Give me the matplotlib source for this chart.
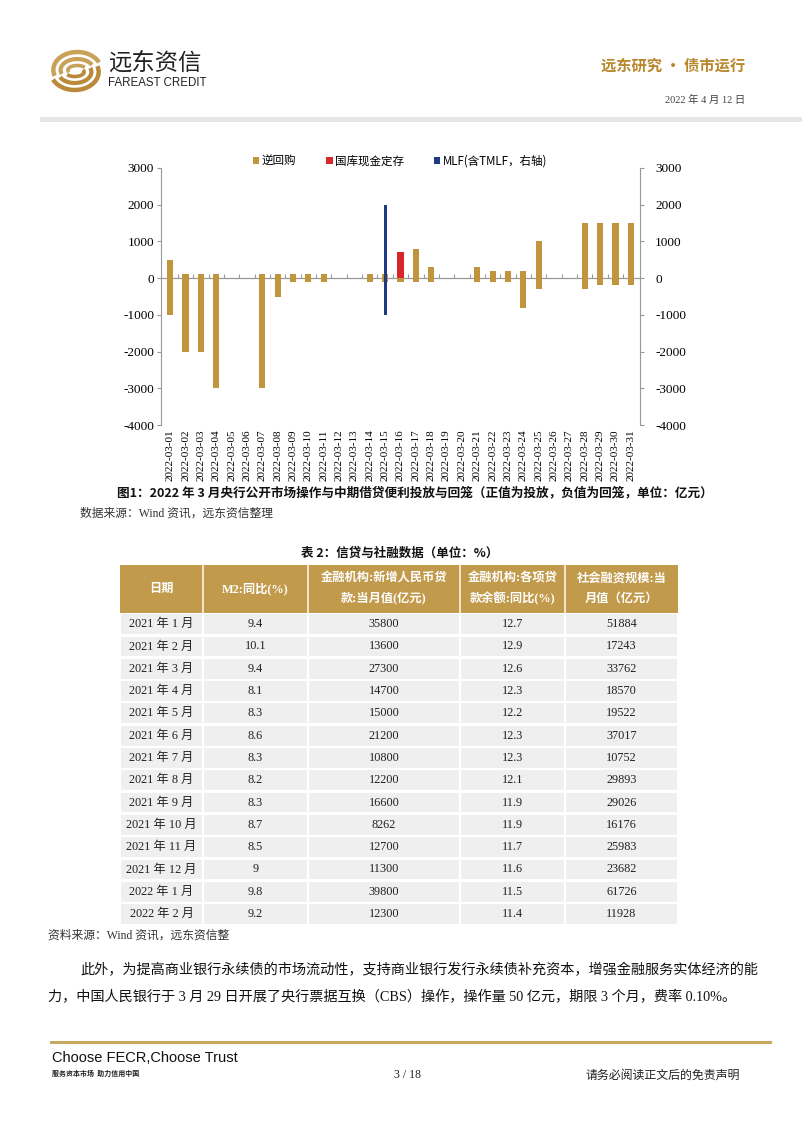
import numpy as np
import matplotlib.pyplot as plt
from matplotlib.patches import Rectangle, Arc

plt.rcParams['axes.unicode_minus'] = False

# ---- data: 2022-03 open market operations (亿元) ----
days = ['2022-03-%02d' % d for d in range(1, 32)]
rr_in = [500, 100, 100, 100, 0, 0, 100, 100, 100, 100, 100, 0, 0, 100, 100,
         0, 800, 300, 0, 0, 300, 200, 200, 200, 1000, 0, 0, 1500, 1500, 1500, 1500]
rr_out = [-1000, -2000, -2000, -3000, 0, 0, -3000, -500, -100, -100, -100, 0, 0, -100, -100,
          -100, -100, -100, 0, 0, -100, -100, -100, -800, -300, 0, 0, -300, -200, -200, -200]
deposit = [0]*15 + [700] + [0]*15
mlf_in = [0]*14 + [2000] + [0]*16
mlf_out = [0]*14 + [-1000] + [0]*16

# ---- data: table 2 ----
tbl_dates = ['2021 年 1 月', '2021 年 2 月', '2021 年 3 月', '2021 年 4 月', '2021 年 5 月',
             '2021 年 6 月', '2021 年 7 月', '2021 年 8 月', '2021 年 9 月', '2021 年 10 月',
             '2021 年 11 月', '2021 年 12 月', '2022 年 1 月', '2022 年 2 月']
m2 = [9.4, 10.1, 9.4, 8.1, 8.3, 8.6, 8.3, 8.2, 8.3, 8.7, 8.5, 9, 9.8, 9.2]
new_loans = [35800, 13600, 27300, 14700, 15000, 21200, 10800, 12200, 16600, 8262, 12700, 11300, 39800, 12300]
loan_yoy = [12.7, 12.9, 12.6, 12.3, 12.2, 12.3, 12.3, 12.1, 11.9, 11.9, 11.7, 11.6, 11.5, 11.4]
tsf = [51884, 17243, 33762, 18570, 19522, 37017, 10752, 29893, 29026, 16176, 25983, 23682, 61726, 11928]
headers = ['日期', 'M2:同比(%)', '金融机构:新增人民币贷\n款:当月值(亿元)',
           '金融机构:各项贷\n款余额:同比(%)', '社会融资规模:当\n月值（亿元）']

W, H = 802, 1133
GOLD = '#C1953E'
CJK = ['Noto Sans CJK SC', 'DejaVu Sans']
SERIF = ['Liberation Serif', 'Noto Sans CJK SC']

fig = plt.figure(figsize=(W/100, H/100), dpi=100)


def T(x, y, s, **kw):
    kw.setdefault('va', 'center')
    return fig.text(x/W, 1 - y/H, s, **kw)


def R(x0, y0, x1, y1, **kw):
    fig.patches.append(Rectangle((x0/W, 1 - y1/H), (x1-x0)/W, (y1-y0)/H,
                                 transform=fig.transFigure, **kw))


# ---- page header ----
lax = fig.add_axes([50/W, 1-93/H, 52/W, 44/H])
lax.set_xlim(-1.25, 1.25); lax.set_ylim(-1.1, 1.1); lax.axis('off')
for w, h, lw in [(2.3, 1.8, 3.2), (1.6, 1.1, 3.0), (0.9, 0.45, 2.6)]:
    lax.add_patch(Arc((0.06, 0.05), w, h, theta1=20, theta2=195, color='#C9A25A', lw=lw))
    lax.add_patch(Arc((-0.06, -0.05), w, h, theta1=200, theta2=375, color='#B98A3A', lw=lw))
T(108, 63, '远东资信', family=CJK, fontsize=16.8, color='#222222')
T(108, 83, 'FAREAST CREDIT', family=['Liberation Sans'], fontsize=8.3, color='#222222')
T(745, 66, '远东研究 • 债市运行', family=CJK, fontsize=11, color='#B8862B',
  ha='right', fontweight='bold')
T(745, 100, '2022 年 4 月 12 日', family=SERIF, fontsize=7.5, color='#444444', ha='right')
R(40, 117, 802, 122, color='#E6E6E6', lw=0)

# ---- chart ----
x = np.arange(len(days))
ax = fig.add_axes([161/W, 1-425/H, (640-161)/W, (425-168)/H])
ax.bar(x, rr_in, width=0.4, color=GOLD, label='逆回购', zorder=2)
ax.bar(x, rr_out, width=0.4, color=GOLD, zorder=2)
ax.bar(x, deposit, width=0.4, color='#D9262C', label='国库现金定存', zorder=2)
ax.axhline(0, color='#999999', lw=0.9, zorder=1)
ax.set_ylim(-4000, 3000)
ax.set_xlim(-0.6, len(days) - 0.4)
ax.set_yticks(range(-4000, 3001, 1000))
ax.set_xticks(x)
ax.set_xticklabels(days, rotation=90, family=SERIF, fontsize=8)
ax.tick_params(axis='x', length=0, pad=3)
ax.tick_params(axis='y', length=3, color='#999999', labelsize=9.5, pad=2)
for lab in ax.get_yticklabels():
    lab.set_family(SERIF)
for s in ['top', 'right', 'bottom']:
    ax.spines[s].set_visible(False)
ax.spines['left'].set_color('#999999')

ax2 = ax.twinx()
ax2.bar(x, mlf_in, width=0.2, color='#1F3A83', label='MLF(含TMLF，右轴)')
ax2.bar(x, mlf_out, width=0.2, color='#1F3A83')
ax2.set_ylim(-4000, 3000)
ax2.set_yticks(range(-4000, 3001, 1000))
ax2.tick_params(axis='y', length=3, color='#999999', labelsize=9.5, pad=8)
for lab in ax2.get_yticklabels():
    lab.set_family(SERIF)
for s in ['top', 'left', 'bottom']:
    ax2.spines[s].set_visible(False)
ax2.spines['right'].set_color('#999999')

# category tick marks on the zero line
sec = ax.secondary_xaxis(4/7)
sec.set_xticks(x[:-1] + 0.5)
sec.set_xticklabels([])
sec.tick_params(length=3, color='#999999', direction='out')
for sp in sec.spines.values():
    sp.set_visible(False)

h1, l1 = ax.get_legend_handles_labels()
h2, l2 = ax2.get_legend_handles_labels()
fig.legend(h1 + h2, l1 + l2, loc='center', bbox_to_anchor=(400/W, 1-161/H),
           ncol=3, frameon=False, prop={'family': CJK, 'size': 8.3},
           handlelength=0.55, handleheight=0.55, handletextpad=0.2, columnspacing=2.6)

T(117, 493, '图1：2022 年 3 月央行公开市场操作与中期借贷便利投放与回笼（正值为投放，负值为回笼，单位：亿元）',
  family=CJK, fontsize=9.1, fontweight='bold', color='#111111')
T(80, 514, '数据来源：Wind 资讯，远东资信整理', family=SERIF, fontsize=8.5, color='#333333')

# ---- table ----
T(400, 553, '表 2：信贷与社融数据（单位：%）', family=CJK, fontsize=9, fontweight='bold',
  ha='center', color='#111111')
col_x = [120, 203, 308, 460, 565, 678]
hdr_top, hdr_bot = 565, 613
row_h = 22.3
R(col_x[0], hdr_top, col_x[-1], hdr_bot, color='#C29A4B', lw=0)
for i, hd in enumerate(headers):
    if i > 0:
        R(col_x[i]-0.7, hdr_top, col_x[i]+0.7, hdr_bot, color='#F3E6C8', lw=0)
    T((col_x[i] + col_x[i+1]) / 2, (hdr_top + hdr_bot) / 2, hd, family=SERIF, fontsize=8.8,
      ha='center', color='white', fontweight='bold', linespacing=1.75)

for r in range(len(tbl_dates)):
    y0 = hdr_bot + r * row_h
    vals = [tbl_dates[r], f'{m2[r]:g}', str(new_loans[r]), f'{loan_yoy[r]:g}', str(tsf[r])]
    for c, v in enumerate(vals):
        R(col_x[c] + 1, y0 + 1.2, col_x[c+1] - 1, y0 + row_h - 1.2, color='#EFEFEF', lw=0)
        T((col_x[c] + col_x[c+1]) / 2, y0 + row_h / 2, v, family=SERIF, fontsize=8.8,
          ha='center', color='#222222')

T(48, 936, '资料来源：Wind 资讯，远东资信整', family=SERIF, fontsize=8.5, color='#333333')

# ---- body text ----
T(80, 970, '此外，为提高商业银行永续债的市场流动性，支持商业银行发行永续债补充资本，增强金融服务实体经济的能',
  family=SERIF, fontsize=10.2, color='#111111')
T(48, 997, '力，中国人民银行于 3 月 29 日开展了央行票据互换（CBS）操作，操作量 50 亿元，期限 3 个月，费率 0.10%。',
  family=SERIF, fontsize=10.2, color='#111111')

# ---- footer ----
R(50, 1041, 772, 1043.5, color='#C8A860', lw=0)
T(52, 1058, 'Choose FECR,Choose Trust', family=['Liberation Sans'], fontsize=10.5, color='#111111')
T(52, 1073, '服务资本市场  助力信用中国', family=CJK, fontsize=5, fontweight='bold', color='#222222')
T(407, 1075, '3 / 18', family=SERIF, fontsize=8.5, color='#222222', ha='center')
T(740, 1075, '请务必阅读正文后的免责声明', family=CJK, fontsize=8.6, color='#222222', ha='right')

fig.savefig('out.png', dpi=100)
